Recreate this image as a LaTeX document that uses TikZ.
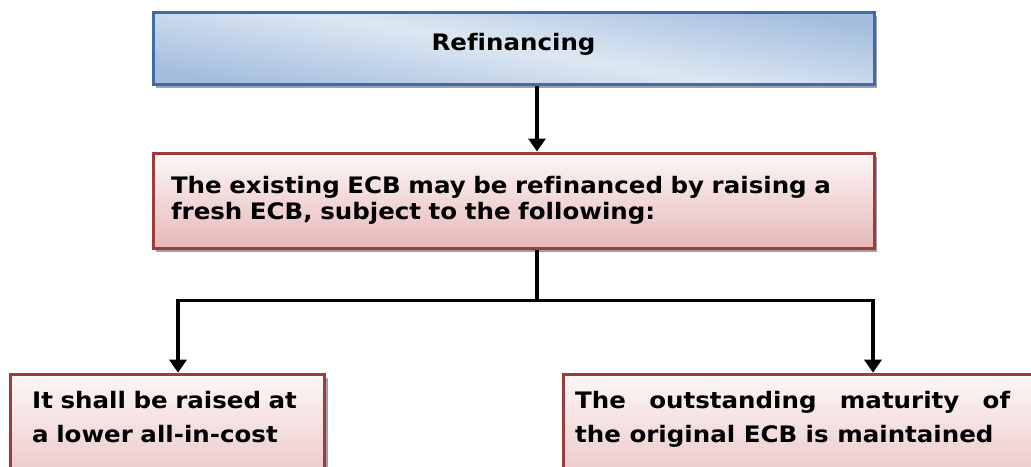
\documentclass[tikz,border=0pt]{standalone}
\usepackage{fontspec}
\setmainfont{DejaVu Sans}[FakeStretch=1.08,Ligatures=NoCommon]
\usetikzlibrary{arrows.meta,shadows}
\definecolor{bluebd}{HTML}{3F6BA7}
\definecolor{blueL}{HTML}{DDE7F2}
\definecolor{blueD}{HTML}{A3BDDE}
\definecolor{redbd}{HTML}{9E3B3B}
\definecolor{redL}{HTML}{FDF7F7}
\definecolor{redD}{HTML}{E5B8B7}
\definecolor{shadowgray}{HTML}{A0A0A8}
\begin{document}
\begin{tikzpicture}[x=1pt,y=1pt,
  bluebox/.style={draw=bluebd, line width=3pt, top color=blueD, bottom color=blueD, middle color=blueL, shading angle=-10},
  redbox/.style={draw=redbd, line width=3pt, top color=redL, bottom color=redD},
  shad/.style={drop shadow={shadow xshift=3pt,shadow yshift=-4pt,fill=shadowgray,opacity=1}},
  txt/.style={font=\bfseries\fontsize{22.7}{26}\selectfont},
  txtb/.style={font=\bfseries\fontsize{22.7}{34}\selectfont},
  arr/.style={line width=3.5pt, -{Triangle[width=17pt,length=13pt]}},
  conn/.style={line width=3.5pt}]
\useasboundingbox (0,0) rectangle (1031,-466);
\clip (0,0) rectangle (1031,-466);
\node (top) [bluebox, shad, minimum width=721pt, minimum height=72pt, inner sep=0pt, txt, text height=14pt, text depth=10pt] at (513.5,-48) {Refinancing};
\node (mid) [redbox, shad, minimum height=95pt, text width=685pt, inner xsep=18pt, align=left, txt] at (513.5,-200.5) {The existing ECB may be refinanced by raising a\\fresh ECB, subject to the following:\par\vspace*{12pt}};
\node (lb) [redbox, shad, anchor=north west, minimum width=314pt, minimum height=140pt] at (9,-372.7) {};
\node (rb) [redbox, shad, anchor=north west, minimum width=520pt, minimum height=140pt] at (562,-372.7) {};
\node (lbt) [txtb, anchor=north west, text width=285pt, align=left, inner sep=0pt] at (32,-390.7) {It shall be raised at\\a lower all-in-cost};
\node (rbt) [txtb, anchor=north west, text width=435pt, align=justify, inner sep=0pt] at (575,-390.7) {The outstanding maturity of\linebreak the original ECB is maintained};
\coordinate (j) at (537,-300.7);
\coordinate (jl) at (178,-300.7);
\coordinate (jr) at (873,-300.7);
\draw[arr] (top.south -| j) -- (mid.north -| j);
\draw[conn] (mid.south -| j) -- (j);
\draw[arr] (j) -- (jl) -- (lb.north -| jl);
\draw[arr] (j) -- (jr) -- (rb.north -| jr);
\end{tikzpicture}
\end{document}
